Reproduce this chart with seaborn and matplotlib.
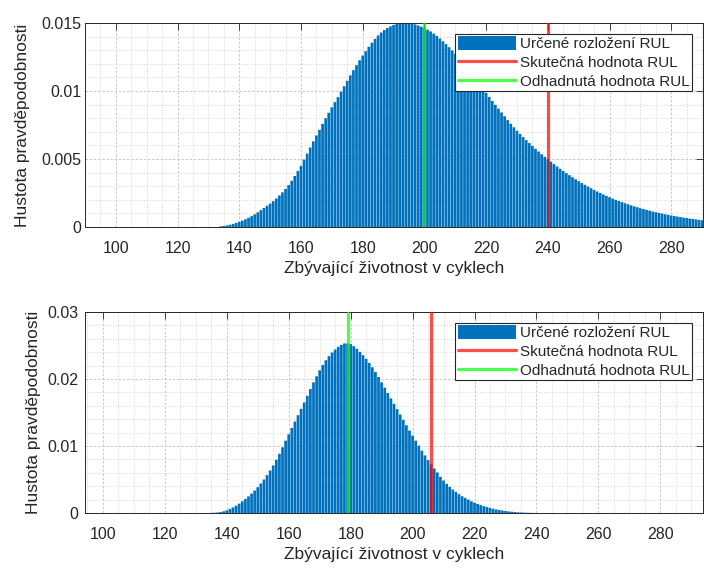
import numpy as np
import pandas as pd
import matplotlib
matplotlib.use("Agg")
import matplotlib.pyplot as plt
import seaborn as sns
from matplotlib.lines import Line2D
from matplotlib.patches import Patch
from matplotlib.ticker import MultipleLocator, FixedLocator, FuncFormatter

# hustota pravdepodobnosti v jednotkach 1e-4, jeden sloupec na cyklus
top_start = 134
top_pdf_e4 = [
    0.5, 0.8, 1.2, 1.7, 2.3, 3.0, 3.8, 4.7, 5.7, 6.8,
    8.0, 9.3, 10.8, 12.4, 14.0, 15.6, 17.2, 19.0, 21.0, 23.2,
    25.5, 28.0, 30.8, 34.0, 37.5, 41.2, 45.0, 49.5, 54.0, 58.5,
    63.0, 67.3, 71.5, 75.8, 80.0, 84.0, 88.0, 91.8, 95.5, 99.5,
    103.5, 107.5, 111.5, 115.3, 119.0, 122.6, 126.0, 129.3, 132.5, 135.5,
    138.3, 140.8, 143.0, 144.8, 146.3, 147.5, 148.5, 149.2, 149.7, 150.0,
    150.0, 149.9, 149.6, 149.0, 148.2, 147.3, 146.3, 145.1, 143.8, 142.2,
    140.5, 138.6, 136.6, 134.5, 132.2, 129.8, 127.3, 124.7, 122.0, 119.2,
    116.4, 113.5, 110.6, 107.6, 104.6, 101.6, 98.6, 95.6, 92.7, 89.8,
    87.0, 84.2, 81.4, 78.6, 75.9, 73.3, 70.8, 68.4, 66.1, 63.9,
    61.7, 59.6, 57.5, 55.5, 53.5, 51.6, 49.8, 48.0, 46.2, 44.5,
    42.8, 41.2, 39.6, 38.1, 36.6, 35.1, 33.7, 32.3, 31.0, 29.7,
    28.5, 27.3, 26.1, 25.0, 23.9, 22.9, 21.9, 20.9, 20.0, 19.1,
    18.3, 17.5, 16.7, 15.9, 15.2, 14.5, 13.8, 13.2, 12.6, 12.0,
    11.4, 10.9, 10.4, 9.9, 9.4, 8.9, 8.5, 8.1, 7.7, 7.3,
    6.9, 6.6, 6.2, 5.9, 5.6, 5.3, 5.0,
]
top_true = 240
top_est = 200

bot_start = 135
bot_pdf_e4 = [
    0.2, 0.4, 0.8, 1.4, 2.5, 4.0, 6.0, 8.3, 11.0, 14.0,
    17.5, 21.0, 24.8, 29.0, 33.5, 38.5, 44.0, 50.0, 56.5, 63.5,
    71.0, 79.5, 88.5, 98.0, 108.0, 117.5, 127.0, 136.5, 146.0, 155.5,
    165.0, 175.0, 185.0, 195.0, 204.0, 213.0, 221.0, 228.0, 234.0, 239.5,
    244.0, 248.0, 251.0, 253.0, 253.0, 252.0, 249.0, 245.0, 240.5, 235.5,
    230.0, 224.0, 217.5, 210.5, 203.0, 195.0, 187.0, 179.0, 171.0, 163.0,
    155.0, 147.0, 139.0, 131.0, 123.0, 115.5, 108.0, 100.5, 93.0, 86.0,
    79.0, 72.5, 66.5, 60.5, 54.0, 48.5, 43.5, 39.0, 35.0, 31.5,
    28.0, 25.0, 22.5, 20.0, 17.5, 15.5, 13.5, 11.8, 10.2, 8.8,
    7.5, 6.4, 5.4, 4.5, 3.7, 3.0, 2.4, 1.9, 1.5, 1.1,
    0.8, 0.6, 0.4, 0.3, 0.2, 0.1,
]
bot_true = 206
bot_est = 179

legend_labels = ["Určené rozložení RUL", "Skutečná hodnota RUL", "Odhadnutá hodnota RUL"]
x_ticks = [100, 120, 140, 160, 180, 200, 220, 240, 260, 280]
top_yticks = [0, 0.005, 0.01, 0.015]
bot_yticks = [0, 0.01, 0.02, 0.03]
x_label = "Zbývající životnost v cyklech"
y_label = "Hustota pravděpodobnosti"

blue = "#0072BD"
ink = "#262626"

sns.set_theme(style="white")
plt.rcParams["font.family"] = ["Liberation Sans", "DejaVu Sans"]

fig = plt.figure(figsize=(7.04, 5.68), dpi=100)
ax1 = fig.add_axes([85 / 704, 1 - 227 / 568, 618 / 704, 204 / 568])
ax2 = fig.add_axes([85 / 704, 1 - 513 / 568, 618 / 704, 201 / 568])


def draw(ax, start, pdf_e4, true_v, est_v, xlim, yticks, yminor, ypad, ylpad):
    df = pd.DataFrame({
        "cyklus": np.arange(start, start + len(pdf_e4)),
        "hustota": np.array(pdf_e4) * 1e-4,
    })
    sns.barplot(data=df, x="cyklus", y="hustota", native_scale=True,
                color=blue, saturation=1, width=0.88, errorbar=None,
                linewidth=0, edgecolor="none", ax=ax, zorder=2)
    for p in ax.patches:
        p.set_snap(False)
    ax.axvline(true_v, color="red", alpha=0.7, lw=2.3, zorder=3)
    ax.axvline(est_v, color="lime", alpha=0.7, lw=2.3, zorder=3)

    ax.set_xlim(*xlim)
    ax.set_ylim(yticks[0], yticks[-1])
    ax.xaxis.set_major_locator(FixedLocator(x_ticks))
    ax.yaxis.set_major_locator(FixedLocator(yticks))
    ax.xaxis.set_minor_locator(MultipleLocator(5))
    ax.yaxis.set_minor_locator(MultipleLocator(yminor))
    ax.yaxis.set_major_formatter(FuncFormatter(lambda v, p: f"{v:g}"))
    ax.xaxis.set_major_formatter(FuncFormatter(lambda v, p: f"{v:g}"))

    ax.set_axisbelow(True)
    ax.grid(which="major", color="#c0c0c0", linestyle=(0, (3, 2)), lw=0.6)
    ax.grid(which="minor", color="#d2d2d2", linestyle=(0, (2, 2)), lw=0.5)

    ax.tick_params(which="major", direction="in", length=5, width=0.6,
                   top=True, right=True, colors=ink, labelsize=11.5)
    ax.tick_params(axis="x", which="major", pad=10)
    ax.tick_params(axis="y", which="major", pad=ypad)
    ax.tick_params(which="minor", length=0)
    for s in ax.spines.values():
        s.set_visible(True)
        s.set_color(ink)
        s.set_linewidth(0.7)

    ax.set_xlabel(x_label, fontsize=12.5, color=ink, labelpad=4)
    ax.set_ylabel(y_label, fontsize=12.5, color=ink, labelpad=ylpad)

    handles = [
        Patch(facecolor=blue, edgecolor="none"),
        Line2D([], [], color="red", alpha=0.7, lw=2.3),
        Line2D([], [], color="lime", alpha=0.7, lw=2.3),
    ]
    leg = ax.legend(handles, legend_labels, loc="upper right", fontsize=11,
                    frameon=True, fancybox=False, framealpha=1,
                    edgecolor=ink, handlelength=3.8, handleheight=1.0,
                    handletextpad=0.3, labelspacing=0.25, borderpad=0.15,
                    borderaxespad=0.7)
    leg.get_frame().set_linewidth(0.8)
    for t in leg.get_texts():
        t.set_color(ink)


draw(ax1, top_start, top_pdf_e4, top_true, top_est, (90, 290.3),
     top_yticks, 0.001, 2.5, 8)
draw(ax2, bot_start, bot_pdf_e4, bot_true, bot_est, (94.2, 293.8),
     bot_yticks, 0.002, 5, 4)

fig.savefig("out.png", dpi=100)
